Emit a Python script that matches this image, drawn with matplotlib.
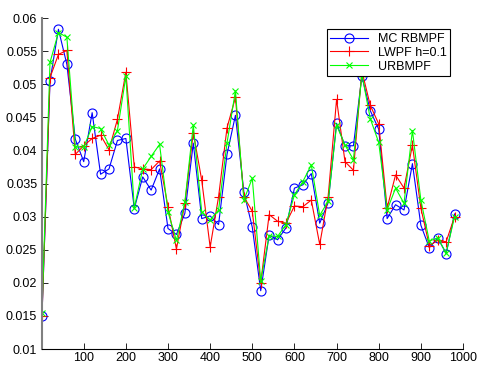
import numpy as np
import matplotlib.pyplot as plt

plt.rcParams['font.family'] = ['Liberation Sans', 'DejaVu Sans']

steps = [1] + list(range(20, 1000, 20))

mc_rbmpf = [0.0150, 0.0505, 0.0583, 0.0530, 0.0417, 0.0383, 0.0457, 0.0364, 0.0372, 0.0415,
            0.0418, 0.0312, 0.0360, 0.0340, 0.0372, 0.0282, 0.0273, 0.0305, 0.0411, 0.0297,
            0.0301, 0.0288, 0.0394, 0.0453, 0.0337, 0.0284, 0.0188, 0.0272, 0.0265, 0.0283,
            0.0343, 0.0348, 0.0365, 0.0290, 0.0321, 0.0441, 0.0407, 0.0407, 0.0512, 0.0460,
            0.0432, 0.0297, 0.0318, 0.0310, 0.0380, 0.0287, 0.0253, 0.0268, 0.0244, 0.0304]

lwpf = [0.0150, 0.0510, 0.0545, 0.0551, 0.0394, 0.0407, 0.0418, 0.0423, 0.0401, 0.0447,
        0.0518, 0.0375, 0.0372, 0.0371, 0.0384, 0.0315, 0.0251, 0.0320, 0.0427, 0.0355,
        0.0254, 0.0330, 0.0434, 0.0480, 0.0330, 0.0308, 0.0200, 0.0303, 0.0293, 0.0290,
        0.0316, 0.0315, 0.0325, 0.0258, 0.0330, 0.0477, 0.0383, 0.0370, 0.0520, 0.0468,
        0.0440, 0.0313, 0.0363, 0.0343, 0.0408, 0.0313, 0.0256, 0.0264, 0.0262, 0.0300]

urbmpf = [0.0155, 0.0533, 0.0578, 0.0571, 0.0405, 0.0405, 0.0436, 0.0433, 0.0408, 0.0430,
          0.0512, 0.0313, 0.0372, 0.0391, 0.0409, 0.0307, 0.0264, 0.0322, 0.0438, 0.0307,
          0.0295, 0.0310, 0.0411, 0.0490, 0.0325, 0.0358, 0.0203, 0.0271, 0.0270, 0.0288,
          0.0333, 0.0353, 0.0378, 0.0302, 0.0323, 0.0438, 0.0408, 0.0386, 0.0515, 0.0448,
          0.0412, 0.0310, 0.0343, 0.0320, 0.0430, 0.0325, 0.0263, 0.0268, 0.0245, 0.0300]

fig = plt.figure(figsize=(4.78, 3.67), dpi=100)
ax = fig.add_axes([42 / 478, 18 / 367, 421 / 478, 331 / 367])

ax.plot(steps, mc_rbmpf, '-o', color='#0000ff', lw=0.8, ms=6.5, mfc='none', mew=0.8, label='MC RBMPF')
ax.plot(steps, lwpf, '-+', color='#ff0000', lw=0.8, ms=7, mew=0.8, label='LWPF h=0.1')
ax.plot(steps, urbmpf, '-x', color='#00ff00', lw=0.8, ms=4.5, mew=0.8, label='URBMPF')

ax.set_xlim(1, 1000)
ax.set_ylim(0.01, 0.06)
ax.set_xticks(range(100, 1001, 100))
yt = np.arange(0.01, 0.0601, 0.005)
ax.set_yticks(yt)
ax.set_yticklabels(['%g' % round(v, 3) for v in yt])
ax.tick_params(direction='in', labelsize=9, length=4, width=0.6, colors='black')
ax.tick_params(axis='x', pad=2)

ax.spines['top'].set_visible(False)
ax.spines['right'].set_visible(False)
ax.spines['left'].set_color('#808080')
ax.spines['left'].set_linewidth(1.5)
ax.spines['bottom'].set_linewidth(0.8)

leg = ax.legend(loc='upper right', fontsize=9, fancybox=False, framealpha=1,
                edgecolor='black', borderpad=0.3, labelspacing=0.15, handlelength=3,
                bbox_to_anchor=(0.985, 0.985))
leg.get_frame().set_linewidth(0.8)

fig.savefig('out.png', dpi=100)
